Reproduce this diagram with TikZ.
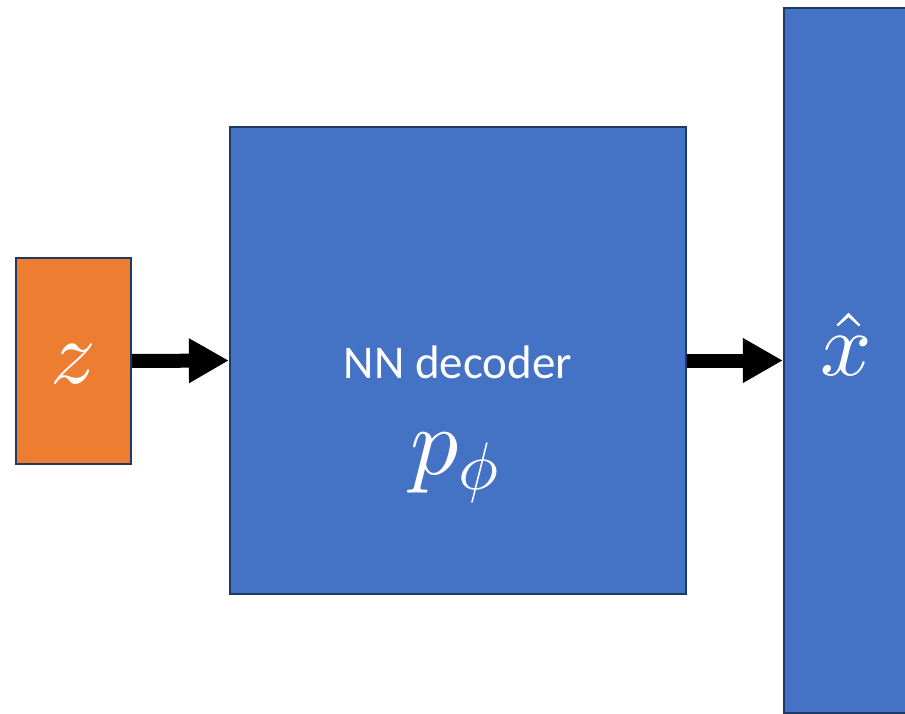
\documentclass[tikz,border=0pt]{standalone}
\usepackage{fontspec}
\setsansfont{Carlito}
\DeclareFontShape{OML}{cmm}{m}{it}{<->cmmi10}{}
\DeclareFontShape{OMS}{cmsy}{m}{n}{<->cmsy10}{}
\DeclareFontShape{OT1}{cmr}{m}{n}{<->cmr10}{}
\usetikzlibrary{arrows.meta}
\definecolor{nnblue}{HTML}{4472C4}
\definecolor{zorange}{HTML}{ED7D31}
\definecolor{boxline}{HTML}{1F3864}
\begin{document}
\begin{tikzpicture}[x=1pt,y=-1pt,
  box/.style={draw=boxline, line width=2.2pt, inner sep=0pt, rectangle},
  arr/.style={line width=14pt, -{Triangle[length=40pt,width=42pt]}, black},
  mathlbl/.style={text=white, inner sep=0pt, font=\fontsize{90}{90}\selectfont},
  txtlbl/.style={text=white, inner sep=0pt, font=\sffamily\fontsize{47}{47}\selectfont}]
\useasboundingbox (0,0) rectangle (905,714);
\clip (0,0) rectangle (905,714);
\node[box, fill=zorange, minimum width=115pt, minimum height=206pt] (z) at (73.5,361) {};
\node[box, fill=nnblue, minimum width=456pt, minimum height=467pt] (dec) at (458,360.5) {};
\node[box, fill=nnblue, minimum width=124pt, minimum height=705pt] (xh) at (846,360.5) {};
\draw[arr] (z.east) -- (dec.west);
\draw[arr] (dec.east) -- (xh.west);
\node[mathlbl] (zl) at (73,364) {$z$};
\node[mathlbl] (xl) at (846,344) {$\hat{x}$};
\node[txtlbl] (nn) at (458,362) {NN decoder};
\node[mathlbl, font=\fontsize{96}{96}\selectfont] (pl) at (455,468) {$p_\phi$};
\end{tikzpicture}
\end{document}
